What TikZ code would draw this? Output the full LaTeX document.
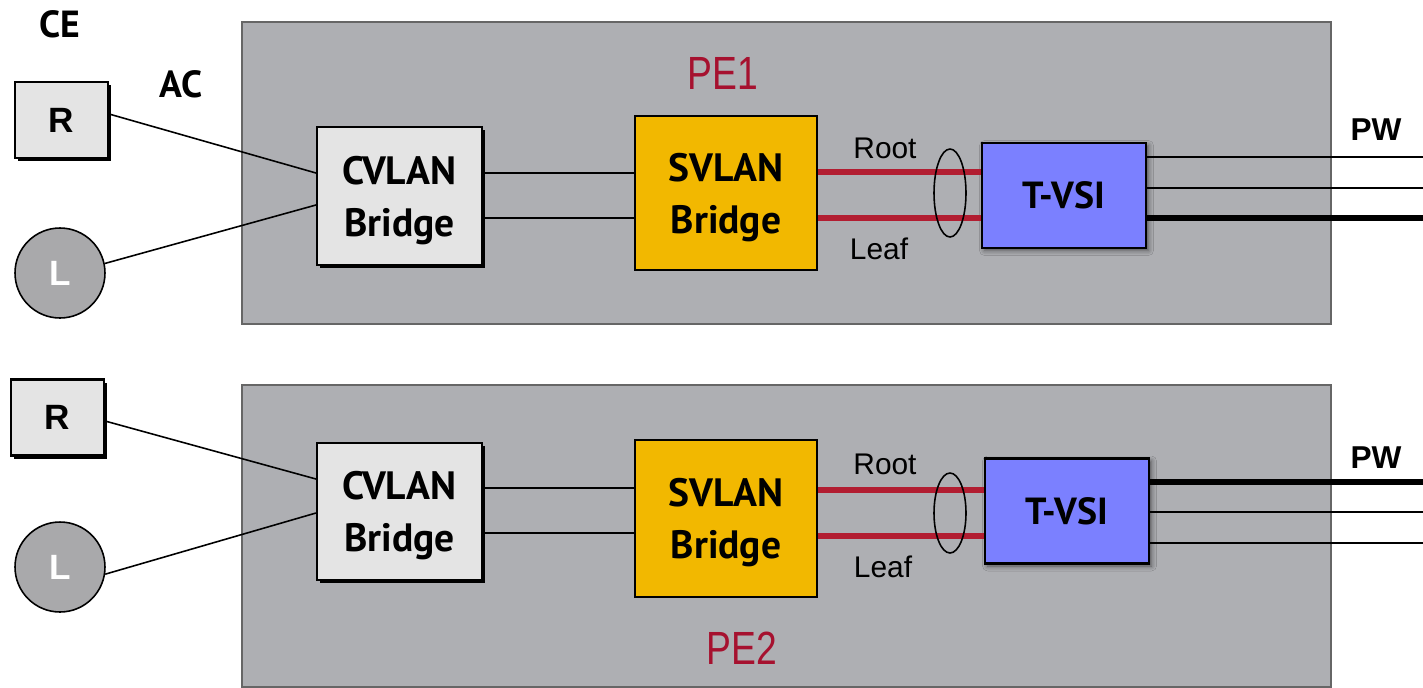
\documentclass[tikz,border=0pt]{standalone}
\usepackage{fontspec}
\setmainfont{Liberation Sans}
\newfontfamily\gillfont{PT Sans}
\newfontfamily\narrowfont[FakeStretch=0.8]{Liberation Sans}
\usetikzlibrary{shadows,shadows.blur,shapes.geometric}

\definecolor{pegray}{HTML}{AEAFB3}
\definecolor{peedge}{HTML}{666666}
\definecolor{cegray}{HTML}{E4E4E4}
\definecolor{leafgray}{HTML}{A9A9AB}
\definecolor{svyellow}{HTML}{F2B800}
\definecolor{tvblue}{HTML}{7B80FF}
\definecolor{linkred}{HTML}{B21D31}
\definecolor{pered}{HTML}{A6112F}

\tikzset{
  hardshadow/.style={general shadow={fill=black, shadow xshift=0.06cm, shadow yshift=-0.06cm}},
  pebox/.style={draw=peedge, line width=0.8pt, fill=pegray, minimum width=21.78cm, minimum height=6.04cm},
  petext/.style={text=pered, font=\narrowfont\fontsize{26.5}{30}\selectfont},
  cetext/.style={font=\gillfont\bfseries\fontsize{21.5}{24}\selectfont},
  cebox/.style={draw, line width=1.2pt, fill=cegray, hardshadow, minimum width=1.86cm, minimum height=1.52cm,
    font=\bfseries\fontsize{20}{22}\selectfont},
  leafce/.style={circle, draw, line width=0.9pt, fill=leafgray, minimum size=1.8cm, text=white,
    font=\bfseries\fontsize{20}{22}\selectfont},
  bridgetext/.style={font=\gillfont\bfseries\fontsize{22.5}{29.5}\selectfont},
  cvbox/.style={bridgetext, draw, line width=1.2pt, fill=cegray, hardshadow, minimum width=3.3cm, text depth=-0.12cm},
  svbox/.style={bridgetext, draw, line width=1.2pt, fill=svyellow, minimum width=3.64cm, text depth=0pt},
  tvbox/.style={font=\gillfont\bfseries\fontsize{21.5}{26}\selectfont, draw, line width=1.2pt, fill=tvblue,
    minimum width=3.28cm, minimum height=2.1cm,
    blur shadow={shadow xshift=0.05cm, shadow yshift=-0.05cm, shadow blur radius=0.1cm, shadow opacity=55}},
  bundle/.style={ellipse, draw, line width=0.9pt, minimum width=0.64cm, inner sep=0pt},
  linktext/.style={font=\fontsize{17}{20}\selectfont},
  rootleaf/.style={draw=linkred, line width=3.3pt},
  pwthick/.style={line width=3.2pt},
  pwtext/.style={font=\bfseries\fontsize{18}{20}\selectfont}
}

\begin{document}
\begin{tikzpicture}[x=0.02cm, y=-0.02cm, line width=0.9pt, every node/.style={align=center}]
    \useasboundingbox (0,0) rectangle (1423,687);

    % PE boxes
    \node[pebox] (pe1) at (786.5,173) {};
    \node[pebox] (pe2) at (786.5,536) {};
    \node[petext] at (723,73) {PE1};
    \node[petext] at (742,648) {PE2};

    % CE side
    \node[cetext] at (60,24) {CE};
    \node[cetext] at (181,84) {AC};
    \node[cebox] (r1) at (61.5,120) {R};
    \node[leafce] (l1) at (60,273) {L};
    \node[cebox] (r2) at (57.5,417.5) {R};
    \node[leafce] (l2) at (60,567) {L};

    % Bridges and T-VSI
    \node[cvbox, minimum height=2.76cm] (cv1) at (399.5,196) {CVLAN\\Bridge};
    \node[svbox, minimum height=3.08cm] (sv1) at (726,193) {SVLAN\\Bridge};
    \node[tvbox] (tv1) at (1064,195.5) {T-VSI};
    \node[cvbox, minimum height=2.74cm] (cv2) at (399.5,511.5) {CVLAN\\Bridge};
    \node[svbox, minimum height=3.14cm] (sv2) at (726,518.5) {SVLAN\\Bridge};
    \node[tvbox] (tv2) at (1067,511) {T-VSI};

    % Attachment circuits
    \draw (r1.east |- 0,114) -- (cv1.west |- 0,173);
    \draw (l1.12) -- (cv1.west |- 0,205);
    \draw (r2.east |- 0,421) -- (cv2.west |- 0,479);
    \draw (l2.-9) -- (cv2.west |- 0,513);

    % CVLAN to SVLAN
    \foreach \y in {173,218}
        \draw (cv1.east |- 0,\y) -- (sv1.west |- 0,\y);
    \foreach \y in {488,533}
        \draw (cv2.east |- 0,\y) -- (sv2.west |- 0,\y);

    % Root / Leaf links
    \draw[rootleaf] (sv1.east |- 0,172) -- (tv1.west |- 0,172);
    \draw[rootleaf] (sv1.east |- 0,218) -- (tv1.west |- 0,218);
    \draw[rootleaf] (sv2.east |- 0,490) -- (tv2.west |- 0,490);
    \draw[rootleaf] (sv2.east |- 0,536) -- (tv2.west |- 0,536);
    \node[bundle, minimum height=1.76cm] (bd1) at (950,193) {};
    \node[bundle, minimum height=1.6cm] (bd2) at (950,513) {};
    \node[linktext] at (885,148) {Root};
    \node[linktext] at (879,249) {Leaf};
    \node[linktext] at (885,464) {Root};
    \node[linktext] at (883,567) {Leaf};

    % Pseudowires
    \coordinate (pwend) at (1423,0);
    \foreach \y in {157,188}
        \draw (tv1.east |- 0,\y) -- (pwend |- 0,\y);
    \draw[pwthick] (tv1.east |- 0,218) -- (pwend |- 0,218);
    \draw[pwthick] (tv2.east |- 0,482) -- (pwend |- 0,482);
    \foreach \y in {512,543}
        \draw (tv2.east |- 0,\y) -- (pwend |- 0,\y);
    \node[pwtext] at (1376,130) {PW};
    \node[pwtext] at (1376,458) {PW};
\end{tikzpicture}
\end{document}
